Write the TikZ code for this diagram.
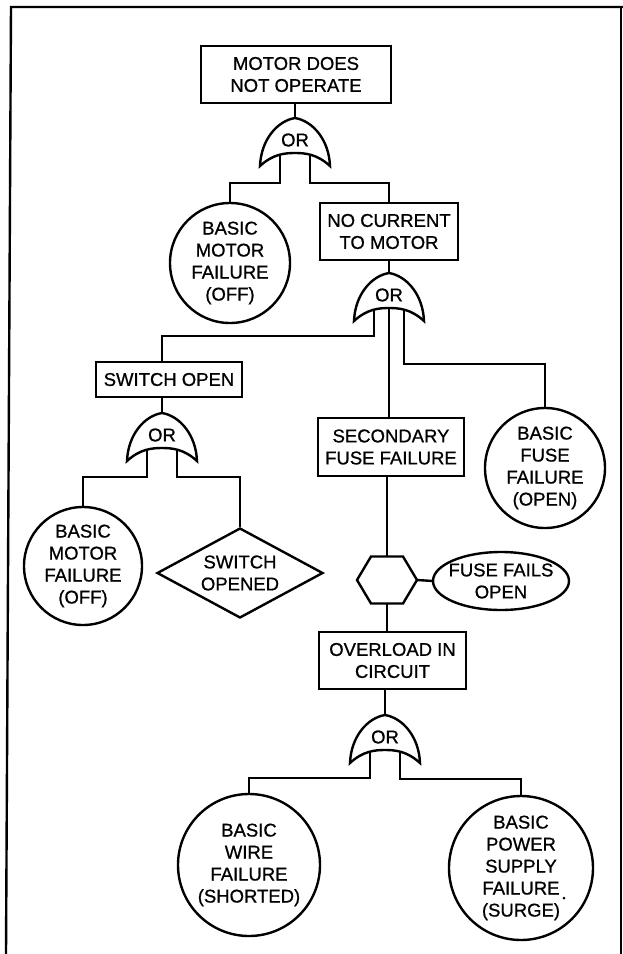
\documentclass[tikz,border=0pt]{standalone}
\usepackage{fontspec}
\setmainfont{Liberation Sans}[UprightFeatures={FakeBold=0.8}]
\usetikzlibrary{calc, shapes.geometric}

\tikzset{
  orgate/.pic={
    \draw (-35,48) .. controls (-34,22) and (-18,3) .. (0,0)
      .. controls (18,3) and (34,22) .. (35,48)
      .. controls (22,36) and (10,35) .. (0,35)
      .. controls (-10,35) and (-22,36) .. cycle;
    \node at (0,22) {OR};
    \coordinate (-in) at (0,0);
    \coordinate (-l) at (-15,36.5);
    \coordinate (-m) at (0,35);
    \coordinate (-r) at (15,36.5);
  }
}

\begin{document}
\begin{tikzpicture}[x=1pt, y=-1pt, line width=2.4pt,
  every node/.style={font=\fontsize{18.5}{22}\selectfont},
  event/.style={draw, rectangle, align=center, inner sep=0pt},
  basic/.style={draw, circle, align=center, inner sep=0pt},
  cond/.style={draw, diamond, align=center, inner sep=0pt, aspect=1.84}]
\useasboundingbox (0,0) rectangle (623,954);
% frame
\draw (6,954) -- (11,7) -- (623,7);
\draw (621,7) -- (621,954);

\node[event, minimum width=190, minimum height=57] (top) at (296,74.5) {MOTOR DOES\\NOT OPERATE};
\pic (g1) at (295,118) {orgate};
\node[basic, minimum size=120] (bm1) at (230,263) {BASIC\\MOTOR\\FAILURE\\(OFF)};
\node[event, minimum width=138, minimum height=57] (nc) at (389,231.5) {NO CURRENT\\TO MOTOR};
\pic (g2) at (389,273) {orgate};

\node[event, minimum width=146, minimum height=35] (so) at (169,379.5) {SWITCH OPEN};
\pic (g3) at (162,413) {orgate};
\node[basic, minimum size=118] (bm2) at (83,566) {BASIC\\MOTOR\\FAILURE\\(OFF)};
\node[cond, minimum width=166, minimum height=90] (sw) at (240,573) {SWITCH\\OPENED};

\node[event, minimum width=146, minimum height=58] (sf) at (391,447) {SECONDARY\\FUSE FAILURE};
\node[basic, minimum size=120] (bf) at (545,468) {BASIC\\FUSE\\FAILURE\\(OPEN)};

% hexagon (inhibit gate)
\coordinate (hx) at (387,580);
\draw (hx) +(-30,0) -- +(-16,-23.5) -- +(16,-23.5) -- +(30,0) -- +(16,23.5) -- +(-16,23.5) -- cycle;
\coordinate (hx-n) at ($(hx)+(0,-23.5)$);
\coordinate (hx-s) at ($(hx)+(0,23.5)$);
\coordinate (hx-e) at ($(hx)+(30,0)$);
\node[align=center] (ff) at (501,581) {FUSE FAILS\\OPEN};
\draw (ff.center) ellipse [x radius=68, y radius=29];

\node[event, minimum width=147, minimum height=57] (ov) at (392.5,660.5) {OVERLOAD IN\\CIRCUIT};
\pic (g4) at (385,715) {orgate};
\node[basic, minimum size=142] (bw) at (249,865) {BASIC\\WIRE\\FAILURE\\(SHORTED)};
\node[basic, minimum size=144] (bp) at (521,868) {BASIC\\POWER\\SUPPLY\\FAILURE\\(SURGE)};
\fill (564,898) circle (1.5); % speck

% connectors
\draw (top.south -| g1-in) -- (g1-in);
\draw (g1-l) |- ($(bm1.north)+(0,-19)$) -- (bm1.north);
\draw (g1-r) |- ($(nc.north)+(0,-19)$) -- (nc.north);
\draw (nc.south) -- (g2-in);
\draw (g2-l) |- ($(so.north -| g3-in)+(0,-25)$) -- (so.north -| g3-in);
\draw (so.south -| g3-in) -- (g3-in);
\draw (g3-l) |- ($(bm2.north)+(0,-29)$) -- (bm2.north);
\draw (g3-r) |- ($(sw.north)+(0,-50)$) -- (sw.north);
\draw (g2-m) -- (g2-m |- sf.north);
\draw (g2-r) |- ($(bf.north)+(0,-43)$) -- (bf.north);
\draw (sf.south -| hx-n) -- (hx-n);
\draw (hx-e) -- ([xshift=-68pt]ff.center);
\draw (hx-s) -- (hx-s |- ov.north);
\draw (ov.south -| g4-in) -- (g4-in);
\draw (g4-l) |- ($(bw.north)+(0,-15)$) -- (bw.north);
\draw (g4-r) |- ($(bp.north)+(0,-16)$) -- (bp.north);
\end{tikzpicture}
\end{document}
